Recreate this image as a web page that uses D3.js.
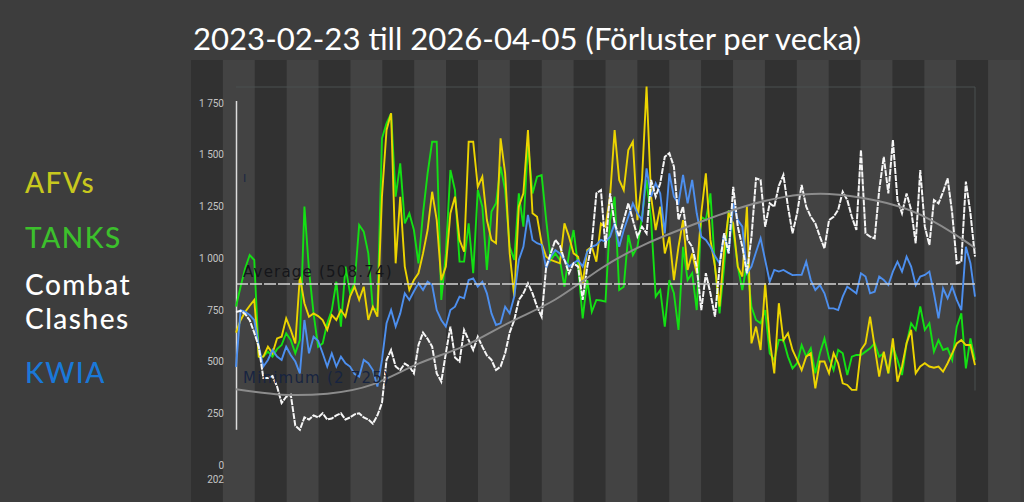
<!DOCTYPE html>
<meta charset="utf-8">
<script src="https://d3js.org/d3.v7.min.js"></script>
<style>
  body { margin: 0; background: #3d3d3d; }
</style>
<div id="chart"></div>
<script>

// weekly losses, 2023-02-23 .. 2026-04-05 (one value per week)
var afvs = [640,700,740,770,798,524,524,572,540,612,
  620,709,653,588,911,782,717,733,720,701,
  653,725,701,749,717,814,862,798,862,701,
  765,717,1300,1620,1700,975,1297,959,846,894,
  927,1023,1136,1321,1184,894,959,1217,1297,1088,
  1031,1563,1563,1345,1394,1184,1088,1072,1579,1410,
  1023,814,1249,1313,1619,1217,1200,1072,1007,991,
  983,975,1168,1104,1023,1007,878,1039,1055,983,
  1168,1152,1297,1619,1378,1329,1523,1563,1184,1378,
  1829,1297,1136,1249,1023,1104,894,1055,1184,943,
  1023,927,1217,1410,1088,959,766,1039,1217,1168,
  959,911,1249,588,669,556,878,604,443,782,
  604,637,556,508,459,524,540,371,500,500,
  443,540,492,395,387,363,363,556,588,717,
  572,427,548,443,612,403,476,588,653,443,
  476,492,476,470,476,451,492,540,588,604,
  580,580,483];

var tanks = [766,862,950,1015,991,524,524,548,524,560,
  580,637,604,540,604,1249,943,733,572,588,
  685,749,886,669,959,830,878,1160,1128,1023,
  757,749,1579,1652,1700,1297,1458,1168,1217,1136,
  975,1217,1410,1563,1563,798,1023,1426,1329,983,
  983,1168,927,1329,1249,943,1225,1265,1442,1329,
  1055,991,1313,1152,1555,1313,1394,1402,1184,991,
  1023,991,862,1023,1136,959,709,894,741,798,
  795,790,1184,1297,846,862,1112,1015,1055,1200,
  1378,1184,814,846,669,894,830,653,1055,894,
  927,749,1200,1184,1313,959,733,959,1232,1136,
  959,846,975,765,701,685,749,540,508,604,
  604,524,467,492,580,524,564,443,540,612,
  516,459,556,540,435,524,532,532,548,564,
  588,524,540,443,572,508,435,588,685,653,
  766,653,685,548,604,556,564,508,669,733,
  467,612,508];

var clashes = [740,745,730,700,640,570,420,420,430,380,
  300,330,340,190,170,230,220,240,230,250,
  220,225,240,250,220,230,245,250,230,220,
  200,240,300,508,556,476,459,490,476,443,
  580,640,610,572,443,403,540,669,520,500,
  653,604,556,620,572,530,508,459,476,540,
  640,701,798,830,878,830,765,717,959,1023,
  1088,1060,991,927,975,959,798,959,1072,1313,
  1329,1050,1313,1168,1104,1184,1265,1184,1104,1152,
  1120,1378,1297,1362,1490,1507,1442,1185,1249,1088,
  1055,959,749,927,830,717,959,1120,1023,1345,
  1152,1055,927,1104,1386,1378,1152,1265,1249,1350,
  1402,1249,1120,1217,1354,1249,1200,1168,1104,1047,
  1184,1200,1233,1321,1281,1200,1136,1523,1120,1104,
  1096,1329,1490,1313,1571,1281,1217,1313,1233,1072,
  1426,1152,1064,1281,1265,1320,1386,1217,975,983,
  1370,1217,1007];

var kwia = [474,749,740,725,701,572,476,508,556,524,
  508,572,532,500,443,701,540,620,600,540,
  476,540,476,524,492,476,440,427,508,492,
  459,379,508,685,749,669,733,830,798,840,
  878,846,886,870,749,701,669,749,765,814,
  806,894,902,862,886,830,733,677,685,765,
  733,814,991,1055,1209,1088,1072,1064,951,1007,
  1039,1023,991,959,975,991,959,1031,1055,1064,
  1088,1080,1104,1168,1055,1136,1200,1265,1217,1184,
  1434,1297,1362,1313,1120,1410,1297,1265,1402,1265,
  1378,1217,1104,1088,1055,1010,975,1120,1023,1265,
  1184,1152,927,959,1030,1096,991,886,943,935,
  943,930,918,919,919,983,894,846,870,830,
  757,757,749,814,862,846,830,927,911,830,
  838,911,894,870,935,983,935,1007,959,870,
  911,919,935,830,709,854,806,862,798,749,
  1055,975,814];

// smooth trend of combat clashes, read at every 10th week
var trendWeeks = [0,10,20,30,40,50,60,70,80,90,100,110,120,130,140,150,160,162];
var trendVals  = [366,340,345,390,490,575,690,800,950,1070,1160,1240,1295,1310,1280,1210,1080,1045];

var averageValue = 875;
var averageLabel = "Average (508.74)";
var minimumLabel = "Minimum (2 725)";

var yTicks = [0,250,500,750,1000,1250,1500,1750];
var legendNames = ["AFVs", "TANKS", "Combat", "Clashes", "KWIA"];
var title = "2023-02-23 till 2026-04-05 (Förluster per vecka)";

var W = 1024, H = 502;

var svg = d3.select("#chart")
  .append("svg")
    .attr("width", W)
    .attr("height", H);

svg.append("rect")
  .attr("width", W).attr("height", H)
  .attr("fill", "#3d3d3d");

// background stripes
var stripe = d3.scaleBand()
  .domain(d3.range(26))
  .range([191, 1020]);

svg.append("g")
  .selectAll("rect")
  .data(stripe.domain())
  .enter()
  .append("rect")
    .attr("x", function(d){ return stripe(d); })
    .attr("y", 60)
    .attr("width", stripe.bandwidth() + 0.5)
    .attr("height", H - 60)
    .attr("fill", function(d){ return d % 2 == 0 ? "#313131" : "#434343"; });

// scales
var x = d3.scaleLinear()
  .domain([0, afvs.length - 1])
  .range([236, 975]);

var y = d3.scaleLinear()
  .domain([0, 1750])
  .range([465, 103]);

// faint frame
svg.append("path")
  .attr("d", "M" + x(0) + "," + 87 + "H" + x(afvs.length - 1) + "V" + y(360))
  .attr("fill", "none")
  .attr("stroke", "#4b5050")
  .attr("stroke-width", 1);

// y axis labels
var locale = d3.formatLocale({decimal: ",", thousands: " ", grouping: [3], currency: ["", ""]});
var yAxis = svg.append("g")
  .attr("transform", "translate(226,0)")
  .call(d3.axisLeft(y).tickValues(yTicks).tickSize(0).tickPadding(2).tickFormat(locale.format(",")));
yAxis.select(".domain").remove();
yAxis.selectAll("text")
  .attr("fill", "#c4c4c4")
  .style("font-family", "Roboto, sans-serif")
  .style("font-size", "10px");

svg.append("text")
  .attr("x", 224).attr("y", 483)
  .attr("text-anchor", "end")
  .attr("fill", "#c4c4c4")
  .style("font-family", "Roboto, sans-serif")
  .style("font-size", "10px")
  .text("202");

// axis line
svg.append("line")
  .attr("x1", 236.5).attr("x2", 236.5)
  .attr("y1", y(1760)).attr("y2", y(170))
  .attr("stroke", "#dcdcdc")
  .attr("stroke-width", 1.5);

var line = d3.line()
  .x(function(d, i){ return x(i); })
  .y(function(d){ return y(d); });

svg.append("path").datum(tanks)
  .attr("d", line).attr("fill", "none")
  .attr("stroke", "#14e014").attr("stroke-width", 1.9);

svg.append("path").datum(afvs)
  .attr("d", line).attr("fill", "none")
  .attr("stroke", "#ecd400").attr("stroke-width", 1.9);

svg.append("path").datum(kwia)
  .attr("d", line).attr("fill", "none")
  .attr("stroke", "#4d8fee").attr("stroke-width", 1.9);

svg.append("path").datum(clashes)
  .attr("d", line).attr("fill", "none")
  .attr("stroke", "#f6f6f6").attr("stroke-width", 2)
  .attr("stroke-dasharray", "6,1");

// trend
var trendLine = d3.line()
  .curve(d3.curveNatural)
  .x(function(d){ return x(d); })
  .y(function(d, i){ return y(trendVals[i]); });

svg.append("path").datum(trendWeeks)
  .attr("d", trendLine).attr("fill", "none")
  .attr("stroke", "#8c8c8c").attr("stroke-width", 2);

// average line
svg.append("line")
  .attr("x1", x(0)).attr("x2", x(afvs.length - 1))
  .attr("y1", y(averageValue)).attr("y2", y(averageValue))
  .attr("stroke", "#d2d2d2")
  .attr("stroke-width", 1.5)
  .attr("stroke-dasharray", "12,2");

svg.append("text")
  .attr("x", 243).attr("y", 277)
  .attr("fill", "#15161a")
  .style("font-family", "DejaVu Sans, sans-serif")
  .style("font-size", "15px")
  .style("letter-spacing", "1.2px")
  .text(averageLabel);

svg.append("text")
  .attr("x", 243).attr("y", 383)
  .attr("fill", "#172440")
  .style("font-family", "DejaVu Sans, sans-serif")
  .style("font-size", "15px")
  .style("letter-spacing", "1.2px")
  .text(minimumLabel);

svg.append("text")
  .attr("x", 243).attr("y", 182)
  .attr("fill", "#1a2742")
  .style("font-family", "DejaVu Sans, sans-serif")
  .style("font-size", "11px")
  .text("I");

// title
svg.append("text")
  .attr("x", 193).attr("y", 50)
  .attr("textLength", 668)
  .attr("lengthAdjust", "spacingAndGlyphs")
  .attr("fill", "#ffffff")
  .style("font-family", "Lato, sans-serif")
  .style("font-size", "31px")
  .text(title);

// legend
var legendColor = ["#c8c81e", "#3cc02c", "#ffffff", "#ffffff", "#1a78d8"];
var legendY = [193, 248, 295, 329, 383];

svg.append("g")
  .selectAll("text")
  .data(legendNames)
  .enter()
  .append("text")
    .attr("x", 25)
    .attr("y", function(d, i){ return legendY[i]; })
    .attr("fill", function(d, i){ return legendColor[i]; })
    .style("font-family", "Lato, sans-serif")
    .style("font-size", "28px")
    .style("font-weight", "500")
    .style("letter-spacing", "1.5px")
    .text(function(d){ return d; });

</script>
